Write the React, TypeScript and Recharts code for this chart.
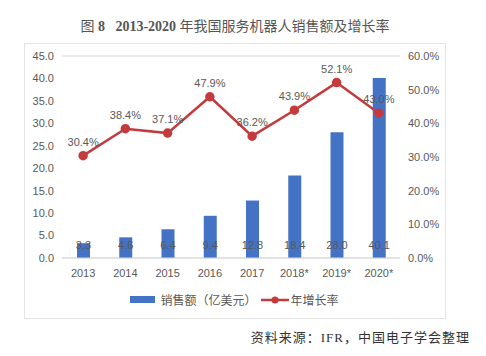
import { ComposedChart, Bar, Line, XAxis, YAxis, CartesianGrid, LabelList } from "recharts";

const years = ["2013", "2014", "2015", "2016", "2017", "2018*", "2019*", "2020*"];
const sales = [3.3, 4.6, 6.4, 9.4, 12.8, 18.4, 28.0, 40.1];
const growth = [30.4, 38.4, 37.1, 47.9, 36.2, 43.9, 52.1, 43.0];
const leftTicks = [0, 5, 10, 15, 20, 25, 30, 35, 40, 45];
const rightTicks = [0, 10, 20, 30, 40, 50, 60];

const COLORS = {
  bar: "#4472C4",
  line: "#C43B3E",
  grid: "#D9D9D9",
  text: "#595959",
};

const FONT = '"Liberation Sans", "Noto Sans CJK SC", sans-serif';
const SERIF = '"Liberation Serif", "Noto Sans CJK SC", serif';

const data = years.map((year, i) => ({ year, sales: sales[i], growth: growth[i] }));

const BarValue = (props: any) => {
  const { x, y, width, height, value } = props;
  return (
    <text
      x={x + width / 2}
      y={y + height - 12}
      textAnchor="middle"
      dominantBaseline="middle"
      fontSize={11}
      fill={COLORS.text}
      fontFamily={FONT}
    >
      {Number(value).toFixed(1)}
    </text>
  );
};

const App = () => {
  return (
    <div style={{ position: "absolute", left: 0, top: 0, width: 486, height: 356, background: "#fff" }}>
      <div
        style={{
          position: "absolute",
          top: 15,
          left: 0,
          width: 470,
          textAlign: "center",
          fontFamily: SERIF,
          fontSize: 14,
          color: "#555",
        }}
      >
        图 <b>8</b>&nbsp;&nbsp;&nbsp;<b>2013-2020</b> 年我国服务机器人销售额及增长率
      </div>
      <div
        style={{
          position: "absolute",
          left: 24,
          top: 43,
          width: 420,
          height: 274,
          border: "1px solid #E3E3E3",
        }}
      />
      <div style={{ position: "absolute", left: 0, top: 0 }}>
        <ComposedChart width={486} height={356} data={data} margin={{ top: 56, right: 0, bottom: 68, left: 0 }}>
          <CartesianGrid vertical={false} stroke={COLORS.grid} />
          <XAxis
            dataKey="year"
            height={30}
            axisLine={{ stroke: COLORS.grid }}
            tickLine={false}
            tickMargin={5}
            tick={{ fontSize: 11, fill: COLORS.text, fontFamily: FONT }}
          />
          <YAxis
            yAxisId="left"
            width={62}
            domain={[0, 45]}
            ticks={leftTicks}
            axisLine={false}
            tickLine={false}
            tickFormatter={(v: number) => v.toFixed(1)}
            tick={{ fontSize: 11, fill: COLORS.text, fontFamily: FONT }}
          />
          <YAxis
            yAxisId="right"
            orientation="right"
            width={86}
            domain={[0, 60]}
            ticks={rightTicks}
            axisLine={false}
            tickLine={false}
            tickFormatter={(v: number) => `${v.toFixed(1)}%`}
            tick={{ fontSize: 11, fill: COLORS.text, fontFamily: FONT, textAnchor: "start" }}
          />
          <Bar yAxisId="left" dataKey="sales" fill={COLORS.bar} barSize={13} isAnimationActive={false}>
            <LabelList dataKey="sales" content={BarValue} />
          </Bar>
          <Line
            yAxisId="right"
            dataKey="growth"
            stroke={COLORS.line}
            strokeWidth={2.5}
            dot={{ r: 3.5, fill: COLORS.line, stroke: COLORS.line }}
            isAnimationActive={false}
          >
            <LabelList
              dataKey="growth"
              position="top"
              offset={10}
              formatter={(v: any) => `${Number(v).toFixed(1)}%`}
              style={{ fontSize: 11, fill: COLORS.text, fontFamily: FONT }}
            />
          </Line>
        </ComposedChart>
      </div>
      <div
        style={{
          position: "absolute",
          top: 291,
          left: 24,
          width: 421,
          display: "flex",
          justifyContent: "center",
          alignItems: "center",
          fontFamily: FONT,
          fontSize: 12,
          color: COLORS.text,
        }}
      >
        <span style={{ width: 25, height: 7, background: COLORS.bar, display: "inline-block", marginRight: 5 }} />
        <span>销售额（亿美元）</span>
        <svg width={28} height={10} style={{ margin: "0 2px 0 4px" }}>
          <line x1={0} y1={5} x2={28} y2={5} stroke={COLORS.line} strokeWidth={2.5} />
          <circle cx={14} cy={5} r={3.5} fill={COLORS.line} />
        </svg>
        <span>年增长率</span>
      </div>
      <div
        style={{
          position: "absolute",
          top: 327,
          right: 16,
          fontFamily: SERIF,
          fontSize: 13,
          color: "#333",
          letterSpacing: 1,
        }}
      >
        资料来源：IFR，中国电子学会整理
      </div>
    </div>
  );
};

export default App;
